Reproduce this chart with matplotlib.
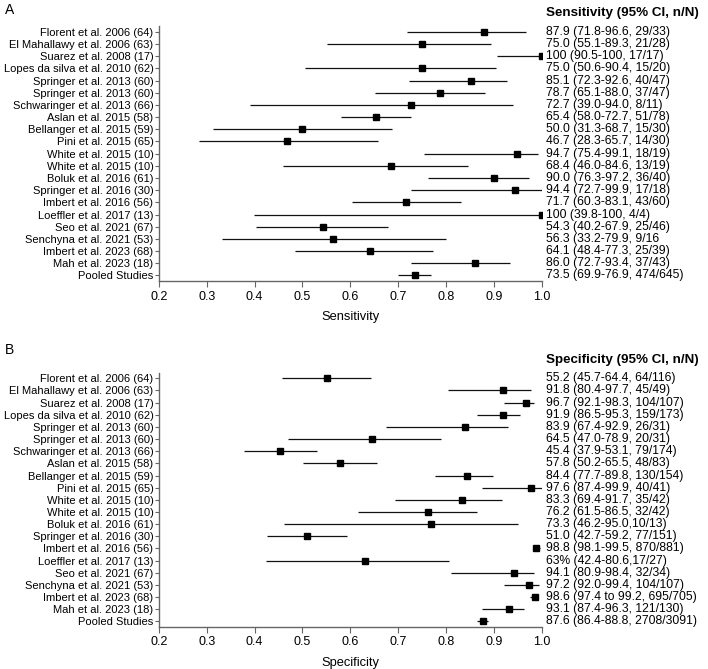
import numpy as np
import matplotlib.pyplot as plt
import matplotlib.transforms as mtransforms

plt.rcParams["font.family"] = ["Liberation Sans", "DejaVu Sans"]

# Study labels (same order in both panels)
studies = [
    "Florent et al. 2006 (64)", "El Mahallawy et al. 2006 (63)", "Suarez et al. 2008 (17)",
    "Lopes da silva et al. 2010 (62)", "Springer et al. 2013 (60)", "Springer et al. 2013 (60)",
    "Schwaringer et al. 2013 (66)", "Aslan et al. 2015 (58)", "Bellanger et al. 2015 (59)",
    "Pini et al. 2015 (65)", "White et al. 2015 (10)", "White et al. 2015 (10)",
    "Boluk et al. 2016 (61)", "Springer et al. 2016 (30)", "Imbert et al. 2016 (56)",
    "Loeffler et al. 2017 (13)", "Seo et al. 2021 (67)", "Senchyna et al. 2021 (53)",
    "Imbert et al. 2023 (68)", "Mah et al. 2023 (18)", "Pooled Studies",
]

# Sensitivity (%)
sens_est = [87.9, 75.0, 100, 75.0, 85.1, 78.7, 72.7, 65.4, 50.0, 46.7, 94.7, 68.4,
            90.0, 94.4, 71.7, 100, 54.3, 56.3, 64.1, 86.0, 73.5]
sens_lo = [71.8, 55.1, 90.5, 50.6, 72.3, 65.1, 39.0, 58.0, 31.3, 28.3, 75.4, 46.0,
           76.3, 72.7, 60.3, 39.8, 40.2, 33.2, 48.4, 72.7, 69.9]
sens_hi = [96.6, 89.3, 100, 90.4, 92.6, 88.0, 94.0, 72.7, 68.7, 65.7, 99.1, 84.6,
           97.2, 99.9, 83.1, 100, 67.9, 79.9, 77.3, 93.4, 76.9]
sens_text = [
    "87.9 (71.8-96.6, 29/33)", "75.0 (55.1-89.3, 21/28)", "100 (90.5-100, 17/17)",
    "75.0 (50.6-90.4, 15/20)", "85.1 (72.3-92.6, 40/47)", "78.7 (65.1-88.0, 37/47)",
    "72.7 (39.0-94.0, 8/11)", "65.4 (58.0-72.7, 51/78)", "50.0 (31.3-68.7, 15/30)",
    "46.7 (28.3-65.7, 14/30)", "94.7 (75.4-99.1, 18/19)", "68.4 (46.0-84.6, 13/19)",
    "90.0 (76.3-97.2, 36/40)", "94.4 (72.7-99.9, 17/18)", "71.7 (60.3-83.1, 43/60)",
    "100 (39.8-100, 4/4)", "54.3 (40.2-67.9, 25/46)", "56.3 (33.2-79.9, 9/16",
    "64.1 (48.4-77.3, 25/39)", "86.0 (72.7-93.4, 37/43)", "73.5 (69.9-76.9, 474/645)",
]

# Specificity (%)
spec_est = [55.2, 91.8, 96.7, 91.9, 83.9, 64.5, 45.4, 57.8, 84.4, 97.6, 83.3, 76.2,
            76.9, 51.0, 98.8, 63.0, 94.1, 97.2, 98.6, 93.1, 87.6]
spec_lo = [45.7, 80.4, 92.1, 86.5, 67.4, 47.0, 37.9, 50.2, 77.7, 87.4, 69.4, 61.5,
           46.2, 42.7, 98.1, 42.4, 80.9, 92.0, 97.4, 87.4, 86.4]
spec_hi = [64.4, 97.7, 98.3, 95.3, 92.9, 78.9, 53.1, 65.5, 89.8, 99.9, 91.7, 86.5,
           95.0, 59.2, 99.5, 80.6, 98.4, 99.4, 99.2, 96.3, 88.8]
spec_text = [
    "55.2 (45.7-64.4, 64/116)", "91.8 (80.4-97.7, 45/49)", "96.7 (92.1-98.3, 104/107)",
    "91.9 (86.5-95.3, 159/173)", "83.9 (67.4-92.9, 26/31)", "64.5 (47.0-78.9, 20/31)",
    "45.4 (37.9-53.1, 79/174)", "57.8 (50.2-65.5, 48/83)", "84.4 (77.7-89.8, 130/154)",
    "97.6 (87.4-99.9, 40/41)", "83.3 (69.4-91.7, 35/42)", "76.2 (61.5-86.5, 32/42)",
    "73.3 (46.2-95.0,10/13)", "51.0 (42.7-59.2, 77/151)", "98.8 (98.1-99.5, 870/881)",
    "63% (42.4-80.6,17/27)", "94.1 (80.9-98.4, 32/34)", "97.2 (92.0-99.4, 104/107)",
    "98.6 (97.4 to 99.2, 695/705)", "93.1 (87.4-96.3, 121/130)", "87.6 (86.4-88.8, 2708/3091)",
]

xticks = [0.2, 0.3, 0.4, 0.5, 0.6, 0.7, 0.8, 0.9, 1.0]

fig = plt.figure(figsize=(7.08, 6.69), dpi=100)
ax_a = fig.add_axes([0.2242, 0.5800, 0.5414, 0.3811])
ax_b = fig.add_axes([0.2242, 0.0632, 0.5414, 0.3798])

spine_col = "#666666"


def forest(ax, est, lo, hi, texts, xlabel, header):
    est = np.array(est) / 100
    lo = np.array(lo) / 100
    hi = np.array(hi) / 100
    y = np.arange(len(studies))
    ax.errorbar(est, y, xerr=[est - lo, hi - est], fmt="s", color="black",
                ms=4.8, elinewidth=0.9, capsize=0, ecolor="#111111")
    ax.set_ylim(len(studies) - 0.55, -0.47)
    ax.set_xlim(0.2, 1.0)
    ax.set_yticks(y)
    ax.set_yticklabels(studies, fontsize=8.05)
    ax.set_xticks(xticks)
    ax.set_xticklabels([f"{t:.1f}" for t in xticks], fontsize=9)
    ax.set_xlabel(xlabel, fontsize=9.3, labelpad=6)
    for s in ["top", "right"]:
        ax.spines[s].set_visible(False)
    for s in ["left", "bottom"]:
        ax.spines[s].set_color(spine_col)
        ax.spines[s].set_linewidth(1.0)
    ax.tick_params(axis="y", length=3, width=0.8, color=spine_col, pad=0.8)
    ax.tick_params(axis="x", length=4, width=0.8, color=spine_col, pad=3)
    trans = mtransforms.blended_transform_factory(ax.transAxes, ax.transData)
    for yi, t in zip(y, texts):
        ax.text(1.0105, yi, t, transform=trans, fontsize=8.7, va="center", ha="left")
    ax.text(1.0105, -1.5, header, transform=trans, fontsize=9.6, va="center",
            ha="left", fontweight="bold")


forest(ax_a, sens_est, sens_lo, sens_hi, sens_text, "Sensitivity",
       "Sensitivity (95% CI, n/N)")
forest(ax_b, spec_est, spec_lo, spec_hi, spec_text, "Specificity",
       "Specificity (95% CI, n/N)")

fig.text(5 / 708, 1 - 10 / 669, "A", fontsize=10, va="center", ha="left")
fig.text(5 / 708, 1 - 350 / 669, "B", fontsize=10, va="center", ha="left")

fig.savefig("out.png", dpi=100)
